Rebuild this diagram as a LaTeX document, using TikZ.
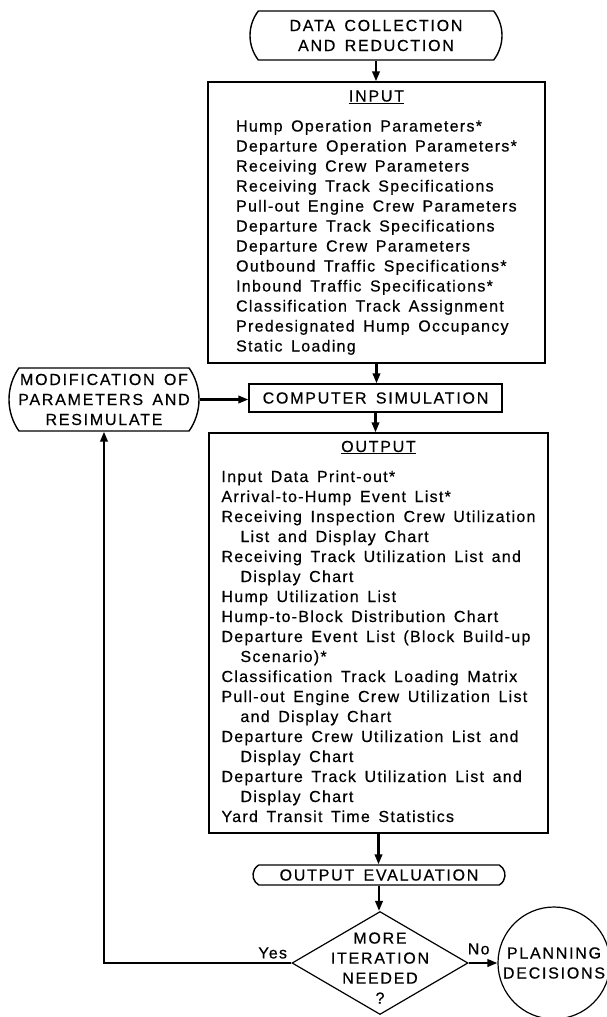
\documentclass[tikz,border=0pt]{standalone}
\usepackage{fontspec}
\setmainfont{Liberation Sans}[LetterSpace=8, WordSpace=1.5, FakeBold=0.5]
\newfontfamily\capsfont{Liberation Sans}[LetterSpace=11, WordSpace=1.5, FakeBold=0.5]
\usetikzlibrary{shapes.geometric, shapes.misc, arrows.meta}

\begin{document}
\begin{tikzpicture}[x=1pt, y=-1pt, >={Triangle[length=10pt,width=7.5pt]},
	font=\fontsize{16}{20}\selectfont,
	caps/.style={font=\capsfont\fontsize{16}{20}\selectfont},
	block/.style={draw, line width=1.4pt, inner sep=0pt},
	terminal/.style={draw, line width=1.4pt, rounded rectangle, caps,
		rounded rectangle arc length=#1, inner sep=0pt, align=center},
	decision/.style={draw, line width=1.2pt, diamond, inner sep=0pt},
	flow/.style={->, line width=2.2pt}]
	% --- 1. SETUP ---
	\useasboundingbox (0,0) rectangle (607,1017);
	
	% --- 2. MAIN COLUMN ---
	\node[terminal=75, minimum width=252pt, minimum height=49pt] (collect) at (376,35.5)
		{DATA COLLECTION\\AND REDUCTION};
	
	\node[block, minimum width=337pt, minimum height=281pt] (input) at (376.5,222.5) {%
		\begin{tabular}{@{}l@{}}
			\multicolumn{1}{@{}c@{}}{\capsfont\underline{INPUT}}\\[10pt]
			Hump Operation Parameters*\\
			Departure Operation Parameters*\\
			Receiving Crew Parameters\\
			Receiving Track Specifications\\
			Pull-out Engine Crew Parameters\\
			Departure Track Specifications\\
			Departure Crew Parameters\\
			Outbound Traffic Specifications*\\
			Inbound Traffic Specifications*\\
			Classification Track Assignment\\
			Predesignated Hump Occupancy\\
			Static Loading
		\end{tabular}};
	
	\node[block, caps, minimum width=253pt, minimum height=28pt] (compsim) at (375.5,398)
		{COMPUTER SIMULATION};
	
	\node[block, minimum width=339pt, minimum height=400pt] (output) at (378.5,633) {%
		\begin{tabular}{@{}l@{}}
			\multicolumn{1}{@{}c@{}}{\capsfont\underline{OUTPUT}}\\[10pt]
			Input Data Print-out*\\
			Arrival-to-Hump Event List*\\
			Receiving Inspection Crew Utilization\\
			\hspace*{19pt}List and Display Chart\\
			Receiving Track Utilization List and\\
			\hspace*{19pt}Display Chart\\
			Hump Utilization List\\
			Hump-to-Block Distribution Chart\\
			Departure Event List (Block Build-up\\
			\hspace*{19pt}Scenario)*\\
			Classification Track Loading Matrix\\
			Pull-out Engine Crew Utilization List\\
			\hspace*{19pt}and Display Chart\\
			Departure Crew Utilization List and\\
			\hspace*{19pt}Display Chart\\
			Departure Track Utilization List and\\
			\hspace*{19pt}Display Chart\\
			Yard Transit Time Statistics
		\end{tabular}};
	
	\node[terminal=120, minimum width=252pt, minimum height=20pt] (oeval) at (379,875)
		{OUTPUT EVALUATION};
	
	% --- 3. DECISION AND SIDE NODES ---
	\node[decision, minimum width=176pt, minimum height=103pt] (decide) at (380,963) {};
	\node[caps, align=center, inner sep=0pt] (decidetext) at (380,968)
		{MORE\\ITERATION\\NEEDED\\?};
	
	\node[circle, draw, line width=1.2pt, minimum size=112pt, inner sep=0pt, caps,
		align=center] (plan) at (554,963) {PLANNING\\DECISIONS};
	
	\node[terminal=70, minimum width=190pt, minimum height=63pt] (modify) at (104,399.5)
		{MODIFICATION OF\\PARAMETERS AND\\RESIMULATE};
	
	% --- 4. CONNECTORS ---
	\draw[flow] (collect.south) -- (collect.south |- input.north);
	\draw[flow] (input.south) -- (input.south |- compsim.north);
	\draw[flow] (compsim.south) -- (compsim.south |- output.north);
	\draw[flow] (output.south) -- (output.south |- oeval.north);
	\draw[flow] (oeval.south) -- (oeval.south |- decide.north);
	\draw[flow] (modify.east) -- (modify.east -| compsim.west);
	
	% No / Yes branches
	\draw[flow] (decide.east) -- node[above, pos=0.35, yshift=4pt] {No} (plan.west);
	\draw[flow] (decide.west) -| node[above, pos=0.05] {Yes} (modify.south);
	
\end{tikzpicture}
\end{document}
